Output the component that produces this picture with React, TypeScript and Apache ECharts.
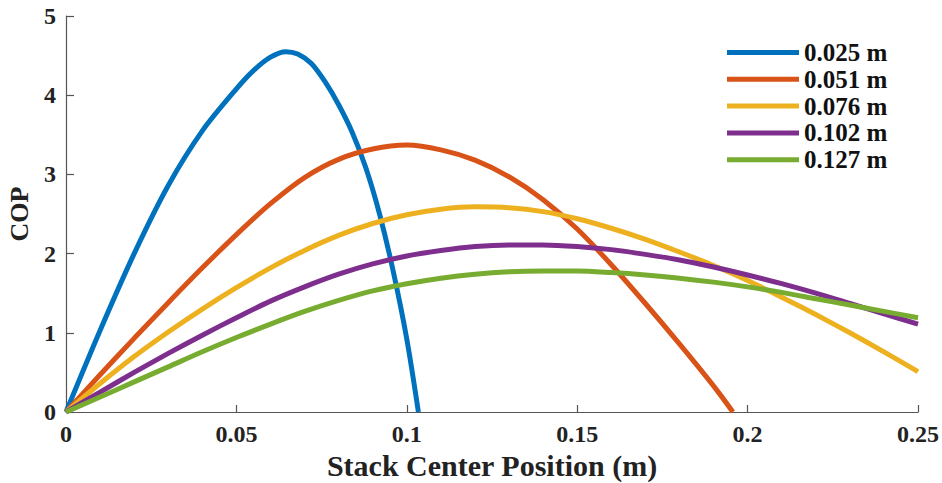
import React, { useEffect, useRef } from "react";
import * as echarts from "echarts";

const seriesNames = ["0.025 m", "0.051 m", "0.076 m", "0.102 m", "0.127 m"];
const colors = ["#0072BD", "#D95319", "#EDB120", "#7E2F8E", "#77AC30"];

const x025 = [0, 0.01, 0.02, 0.03, 0.04, 0.05, 0.055, 0.06, 0.0645, 0.068, 0.072, 0.076, 0.08, 0.084, 0.088, 0.092, 0.096, 0.1, 0.1034];
const y025 = [0, 1.03, 2.0, 2.86, 3.55, 4.08, 4.31, 4.48, 4.55, 4.52, 4.4, 4.17, 3.88, 3.53, 3.08, 2.5, 1.78, 0.92, 0];

const x051 = [0, 0.01, 0.02, 0.03, 0.04, 0.05, 0.06, 0.07, 0.08, 0.09, 0.1, 0.11, 0.12, 0.13, 0.14, 0.15, 0.16, 0.17, 0.18, 0.19, 0.1957];
const y051 = [0, 0.47, 0.93, 1.38, 1.82, 2.24, 2.63, 2.96, 3.19, 3.32, 3.37, 3.31, 3.18, 2.97, 2.68, 2.31, 1.86, 1.37, 0.86, 0.33, 0];

const x076 = [0, 0.01, 0.02, 0.03, 0.04, 0.05, 0.06, 0.07, 0.08, 0.09, 0.1, 0.11, 0.12, 0.13, 0.14, 0.15, 0.16, 0.17, 0.18, 0.19, 0.2, 0.21, 0.22, 0.23, 0.24, 0.25];
const y076 = [0, 0.36, 0.7, 1.01, 1.3, 1.57, 1.82, 2.04, 2.23, 2.38, 2.49, 2.56, 2.59, 2.58, 2.53, 2.44, 2.32, 2.18, 2.02, 1.85, 1.66, 1.45, 1.23, 1.0, 0.76, 0.51];

const x102 = [0, 0.01, 0.02, 0.03, 0.04, 0.05, 0.06, 0.07, 0.08, 0.09, 0.1, 0.11, 0.12, 0.13, 0.14, 0.15, 0.16, 0.17, 0.18, 0.19, 0.2, 0.21, 0.22, 0.23, 0.24, 0.25];
const y102 = [0, 0.25, 0.5, 0.74, 0.97, 1.19, 1.4, 1.58, 1.74, 1.87, 1.97, 2.04, 2.09, 2.11, 2.11, 2.09, 2.05, 1.99, 1.92, 1.83, 1.73, 1.62, 1.5, 1.37, 1.24, 1.11];

const x127 = [0, 0.01, 0.02, 0.03, 0.04, 0.05, 0.06, 0.07, 0.08, 0.09, 0.1, 0.11, 0.12, 0.13, 0.14, 0.15, 0.16, 0.17, 0.18, 0.19, 0.2, 0.21, 0.22, 0.23, 0.24, 0.25];
const y127 = [0, 0.19, 0.38, 0.57, 0.76, 0.94, 1.11, 1.27, 1.41, 1.53, 1.62, 1.69, 1.74, 1.77, 1.78, 1.78, 1.76, 1.73, 1.69, 1.64, 1.58, 1.51, 1.43, 1.35, 1.27, 1.19];

const xs = [x025, x051, x076, x102, x127];
const ys = [y025, y051, y076, y102, y127];

const xTicks = [0, 0.05, 0.1, 0.15, 0.2, 0.25];
const yTicks = [0, 1, 2, 3, 4, 5];

const FONT = "Liberation Serif";

export default function App() {
  const ref = useRef<HTMLDivElement>(null);
  useEffect(() => {
    if (!ref.current) return;
    const chart = echarts.init(ref.current, undefined, { renderer: "svg" });
    chart.setOption({
      animation: false,
      backgroundColor: "#ffffff",
      grid: { left: 66, right: 24, top: 16, bottom: 71, containLabel: false, outerBoundsMode: "none" },
      legend: {
        orient: "vertical",
        left: 727,
        top: 40,
        padding: 0,
        icon: "rect",
        itemWidth: 72,
        itemHeight: 5,
        itemGap: 1.8,
        textStyle: { fontFamily: FONT, fontWeight: "bold", fontSize: 25, color: "#111" },
        data: seriesNames,
      },
      xAxis: {
        type: "value",
        min: xTicks[0],
        max: xTicks[xTicks.length - 1],
        interval: 0.05,
        name: "Stack Center Position (m)",
        nameLocation: "middle",
        nameGap: 36,
        nameTextStyle: { fontFamily: FONT, fontWeight: "bold", fontSize: 30, color: "#222" },
        axisLine: { show: true, lineStyle: { color: "#555", width: 1.2 } },
        axisTick: { show: true, inside: true, length: 7, lineStyle: { color: "#555", width: 1.2 } },
        axisLabel: {
          fontFamily: FONT,
          fontWeight: "bold",
          fontSize: 24,
          color: "#222",
          margin: 10,
          formatter: (v: number) => String(Number(v.toFixed(3))),
        },
        splitLine: { show: false },
      },
      yAxis: {
        type: "value",
        min: yTicks[0],
        max: yTicks[yTicks.length - 1],
        interval: 1,
        name: "COP",
        nameLocation: "middle",
        nameGap: 34,
        nameRotate: 90,
        nameTextStyle: { fontFamily: FONT, fontWeight: "bold", fontSize: 26, color: "#222" },
        axisLine: { show: true, lineStyle: { color: "#555", width: 1.2 } },
        axisTick: { show: true, inside: true, length: 8, lineStyle: { color: "#555", width: 1.2 } },
        axisLabel: { fontFamily: FONT, fontWeight: "bold", fontSize: 24, color: "#222", margin: 10 },
        splitLine: { show: false },
      },
      series: seriesNames.map((name, i) => ({
        name,
        type: "line",
        data: xs[i].map((x, j) => [x, ys[i][j]]),
        smooth: 0.3,
        showSymbol: false,
        symbol: "none",
        lineStyle: { color: colors[i], width: 5 },
        itemStyle: { color: colors[i] },
        clip: true,
      })),
    });
    return () => chart.dispose();
  }, []);
  return <div ref={ref} style={{ position: "fixed", left: 0, top: 0, width: 942, height: 483 }} />;
}
